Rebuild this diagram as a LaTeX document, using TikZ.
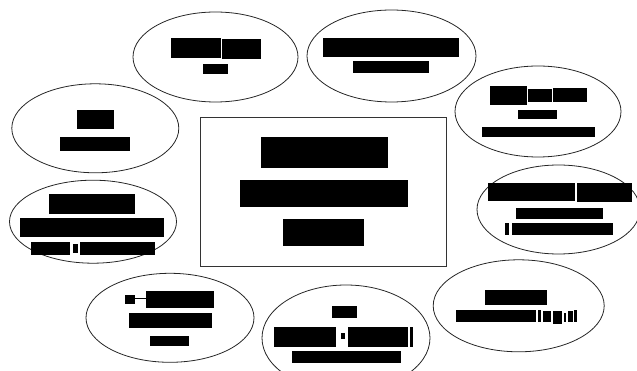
\documentclass[tikz,border=0pt]{standalone}
\usetikzlibrary{shapes.geometric}
\begin{document}
\begin{tikzpicture}[x=1pt,y=-1pt,
  bubble/.style={draw=black!85,line width=0.8pt,ellipse,inner sep=0pt,fill=none},
  mainbox/.style={draw=black!80,line width=0.8pt,rectangle,inner sep=0pt},
  redact/.style={fill=black}]
\useasboundingbox (0,0) rectangle (637,371);
\clip (0,0) rectangle (637,371);
% ellipses
\node[bubble,minimum width=165pt,minimum height=90pt] (e1) at (215.5,57) {};
\node[bubble,minimum width=169pt,minimum height=92pt] (e2) at (391.5,56) {};
\node[bubble,minimum width=166pt,minimum height=91pt] (e3) at (538,111.5) {};
\node[bubble,minimum width=167pt,minimum height=89pt] (e4) at (95.3,128.3) {};
\node[bubble,minimum width=167pt,minimum height=83pt] (e5) at (93,221.7) {};
\node[bubble,minimum width=163pt,minimum height=89pt] (e7) at (558.5,209.5) {};
\node[bubble,minimum width=168pt,minimum height=89pt] (e8) at (170,317.8) {};
\node[bubble,minimum width=168pt,minimum height=106pt] (e9) at (346,338) {};
\node[bubble,minimum width=171pt,minimum height=92pt] (e10) at (518.7,305.8) {};
% centre box
\node[mainbox,minimum width=246.7pt,minimum height=149pt] (c) at (323.3,192.2) {};
% redacted text, centre
\fill[redact] (261,136.7) rectangle (387.7,167.7);
\fill[redact] (240,180) rectangle (407.7,206.7);
\fill[redact] (282.7,219) rectangle (364,245.7);
% e1
\fill[redact] (171,38) rectangle (220.7,57.7);
\fill[redact] (222,39) rectangle (260.7,58.7);
\fill[redact] (203,64) rectangle (228,73.7);
% e2
\fill[redact] (322.7,37.7) rectangle (459.3,56.7);
\fill[redact] (353.3,60.7) rectangle (429,73.3);
% e3
\fill[redact] (490,86) rectangle (527.3,105);
\fill[redact] (528,89.3) rectangle (551.7,101.7);
\fill[redact] (553,88.3) rectangle (586.7,102.3);
\fill[redact] (518.3,110) rectangle (557.3,119.3);
\fill[redact] (482.3,126.7) rectangle (595,136.7);
% e4
\fill[redact] (77.3,110) rectangle (114,129.3);
\fill[redact] (60,137.3) rectangle (130,150.7);
% e5
\fill[redact] (49,194.3) rectangle (135,214.3);
\fill[redact] (20,218.3) rectangle (164.3,236.7);
\fill[redact] (31,241.7) rectangle (70,255);
\fill[redact] (72.7,244.3) rectangle (78.3,253.3);
\fill[redact] (80,241.7) rectangle (155,255);
% e7
\fill[redact] (488.3,182.7) rectangle (575,200.7);
\fill[redact] (576.7,182.7) rectangle (632.3,202.3);
\fill[redact] (516,207.7) rectangle (602.7,219);
\fill[redact] (505,223.3) rectangle (509.3,235);
\fill[redact] (511.7,223.3) rectangle (613.3,235);
% e8
\fill[redact] (125,295) rectangle (135,304.3);
\fill[redact] (135,297.8) rectangle (146,299);
\fill[redact] (146,290.7) rectangle (214,308.3);
\fill[redact] (129.3,313.3) rectangle (211.7,328.3);
\fill[redact] (150,335.7) rectangle (189,345.7);
% e9
\fill[redact] (331.7,306) rectangle (356.7,317.7);
\fill[redact] (274.3,326.7) rectangle (336,346.7);
\fill[redact] (341,333.3) rectangle (345,338.7);
\fill[redact] (347.7,326.7) rectangle (408.3,346.7);
\fill[redact] (409.5,326.7) rectangle (413.3,346.7);
\fill[redact] (291.7,350.7) rectangle (400.7,362.7);
% e10
\fill[redact] (485,290) rectangle (547.3,305);
\fill[redact] (455.7,310) rectangle (536,321.7);
\fill[redact] (537.5,310) rectangle (541,321.7);
\fill[redact] (542.5,311) rectangle (551,321.7);
\fill[redact] (552.5,311) rectangle (562,323.5);
\fill[redact] (563.5,313) rectangle (566,321.7);
\fill[redact] (567.5,311) rectangle (572.5,321.7);
\fill[redact] (574,310) rectangle (577,321.7);
\end{tikzpicture}
\end{document}
